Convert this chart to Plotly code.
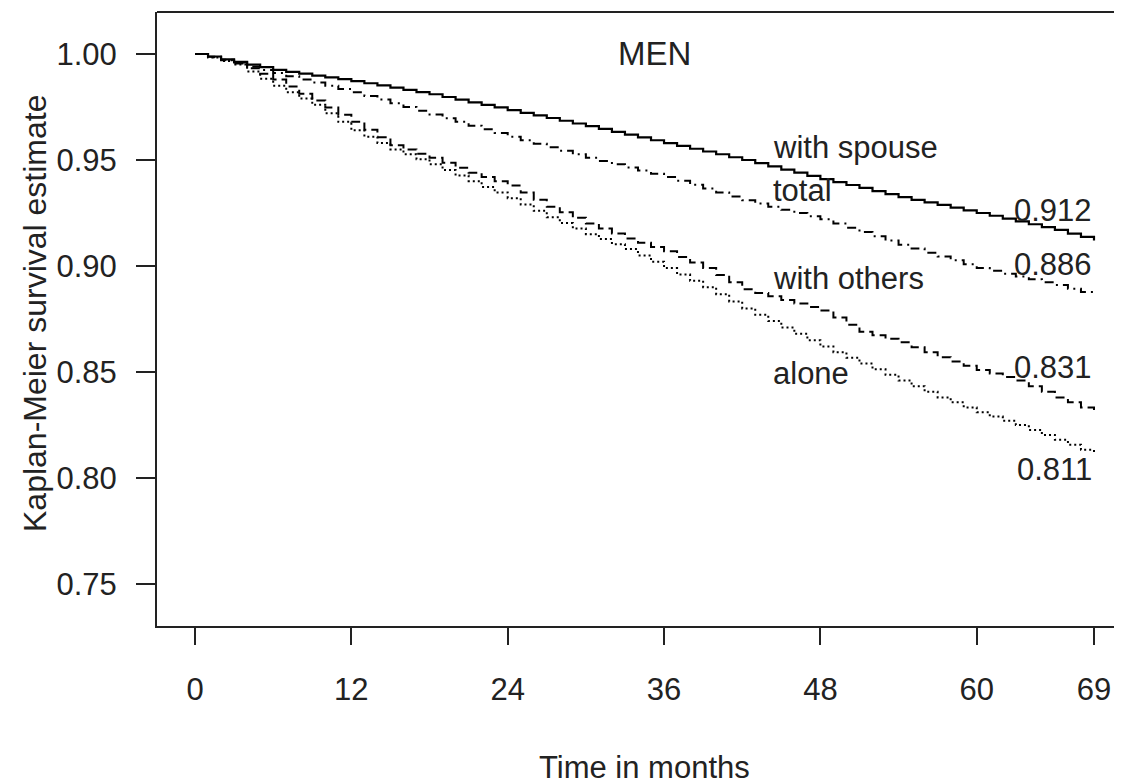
import plotly.graph_objects as go

months = list(range(70))

spouse = [1.000, 0.9988, 0.9975, 0.9963, 0.995, 0.9938, 0.9925, 0.9916, 0.9907, 0.9898,
          0.989, 0.9881, 0.9872, 0.9862, 0.9852, 0.9841, 0.9831, 0.982, 0.981, 0.9797,
          0.9785, 0.9772, 0.976, 0.9748, 0.9735, 0.9722, 0.971, 0.9698, 0.9685, 0.9672,
          0.966, 0.9647, 0.9633, 0.962, 0.9607, 0.9593, 0.958, 0.9567, 0.9553, 0.954,
          0.9527, 0.9513, 0.950, 0.9485, 0.947, 0.9455, 0.944, 0.9425, 0.941, 0.9396,
          0.9382, 0.9368, 0.9353, 0.9339, 0.9325, 0.9312, 0.930, 0.9288, 0.9275, 0.9262,
          0.925, 0.9237, 0.9223, 0.921, 0.9197, 0.9183, 0.917, 0.9153, 0.9137, 0.912]

total = [1.000, 0.9985, 0.997, 0.9955, 0.994, 0.9925, 0.991, 0.9895, 0.988, 0.9865,
         0.985, 0.9835, 0.982, 0.9802, 0.9785, 0.9768, 0.975, 0.9732, 0.9715, 0.9697,
         0.968, 0.9662, 0.9645, 0.9627, 0.961, 0.9593, 0.9577, 0.956, 0.9543, 0.9527,
         0.951, 0.9495, 0.948, 0.9465, 0.945, 0.9435, 0.942, 0.9402, 0.9383, 0.9365,
         0.9347, 0.9328, 0.931, 0.9295, 0.928, 0.9265, 0.925, 0.9235, 0.922, 0.920,
         0.918, 0.916, 0.914, 0.912, 0.910, 0.9082, 0.9063, 0.9045, 0.9027, 0.9008,
         0.899, 0.8977, 0.8963, 0.895, 0.8937, 0.8923, 0.891, 0.8893, 0.8877, 0.886]

others = [1.000, 0.9987, 0.9973, 0.996, 0.9933, 0.9907, 0.988, 0.9847, 0.9813, 0.978,
          0.9747, 0.9713, 0.968, 0.9643, 0.9607, 0.957, 0.955, 0.953, 0.951, 0.9487,
          0.9463, 0.944, 0.942, 0.940, 0.938, 0.9347, 0.9313, 0.928, 0.9253, 0.9227,
          0.920, 0.9177, 0.9153, 0.913, 0.911, 0.909, 0.907, 0.9043, 0.9017, 0.899,
          0.8957, 0.8923, 0.889, 0.8873, 0.8857, 0.884, 0.8823, 0.8807, 0.879, 0.8757,
          0.8723, 0.869, 0.8673, 0.8657, 0.864, 0.8617, 0.8593, 0.857, 0.855, 0.853,
          0.851, 0.8493, 0.8477, 0.846, 0.8433, 0.8407, 0.838, 0.8357, 0.8333, 0.831]

alone = [1.000, 0.9983, 0.9967, 0.995, 0.9917, 0.9883, 0.985, 0.982, 0.979, 0.976,
         0.972, 0.968, 0.964, 0.961, 0.958, 0.955, 0.9527, 0.9503, 0.948, 0.9453,
         0.9427, 0.940, 0.9373, 0.9347, 0.932, 0.929, 0.926, 0.923, 0.9203, 0.9177,
         0.915, 0.9127, 0.9103, 0.908, 0.905, 0.902, 0.899, 0.896, 0.893, 0.890,
         0.8867, 0.8833, 0.880, 0.877, 0.874, 0.871, 0.868, 0.865, 0.862, 0.8593,
         0.8567, 0.854, 0.8513, 0.8487, 0.846, 0.8433, 0.8407, 0.838, 0.8357, 0.8333,
         0.831, 0.829, 0.827, 0.825, 0.8227, 0.8203, 0.818, 0.8157, 0.8133, 0.811]

x_ticks = [0, 12, 24, 36, 48, 60, 69]
y_ticks = [0.75, 0.80, 0.85, 0.90, 0.95, 1.00]
y_tick_text = ["0.75", "0.80", "0.85", "0.90", "0.95", "1.00"]

group_labels = ["with spouse", "total", "with others", "alone"]
group_label_y = [0.9561, 0.9358, 0.8943, 0.8495]
end_values = ["0.912", "0.886", "0.831", "0.811"]
end_label_y = [0.9264, 0.9005, 0.8519, 0.8038]

FONT = "Liberation Sans, Arial, sans-serif"
TXT = "#222222"
FS = 31

fig = go.Figure()
series = [(spouse, "solid", 2.2), (total, "2px,5px,9px,5px", 2.0),
          (others, "9px,5px", 2.0), (alone, "2px,3px", 2.0)]
for ys, dash, w in series:
    fig.add_trace(go.Scatter(x=months, y=ys, mode="lines", line_shape="hv",
                             line=dict(color="black", width=w, dash=dash),
                             showlegend=False, hoverinfo="skip"))

annotations = []
annotations.append(dict(x=35.3, y=1.0, xref="x", yref="y", text="MEN", showarrow=False,
                        xanchor="center", yanchor="middle", font=dict(size=33, color=TXT, family=FONT)))
for lab, yv in zip(group_labels, group_label_y):
    annotations.append(dict(x=44.2, y=yv, xref="x", yref="y", text=lab, showarrow=False,
                            xanchor="left", yanchor="middle", font=dict(size=FS, color=TXT, family=FONT)))
for lab, yv in zip(end_values, end_label_y):
    annotations.append(dict(x=69, y=yv, xref="x", yref="y", text=lab, showarrow=False,
                            xanchor="right", yanchor="middle", font=dict(size=FS, color=TXT, family=FONT)))
annotations.append(dict(x=34.5, y=-0.2312, xref="x", yref="paper", text="Time in months",
                        showarrow=False, xanchor="center", yanchor="middle",
                        font=dict(size=FS, color=TXT, family=FONT)))
annotations.append(dict(x=-0.1264, y=0.5098, xref="paper", yref="paper",
                        text="Kaplan-Meier survival estimate", textangle=-90,
                        showarrow=False, xanchor="center", yanchor="middle",
                        font=dict(size=32, color=TXT, family=FONT)))

# page body has an 8px margin, so the figure is sized/offset to fill the window exactly
fig.update_layout(
    width=1114, height=775,
    margin=dict(l=149, r=0, t=4, b=157),
    paper_bgcolor="white", plot_bgcolor="white",
    annotations=annotations,
    shapes=[dict(type="line", xref="paper", yref="paper", x0=0, x1=1, y0=1, y1=1,
                 line=dict(color="#222222", width=2))],
    xaxis=dict(range=[-2.917, 71.15], tickvals=x_ticks, ticks="outside", ticklen=17,
               tickwidth=2, tickcolor="#222222", showline=True, linecolor="#222222",
               linewidth=2, showgrid=False, zeroline=False, ticklabelstandoff=18,
               tickfont=dict(size=FS, color=TXT, family=FONT)),
    yaxis=dict(range=[0.7302, 1.0198], tickvals=y_ticks, ticktext=y_tick_text,
               ticks="outside", ticklen=19, tickwidth=2, tickcolor="#222222",
               showline=True, linecolor="#222222", linewidth=2, showgrid=False,
               zeroline=False, ticklabelstandoff=13,
               tickfont=dict(size=FS, color=TXT, family=FONT)),
)

fig.write_html("out.html")
